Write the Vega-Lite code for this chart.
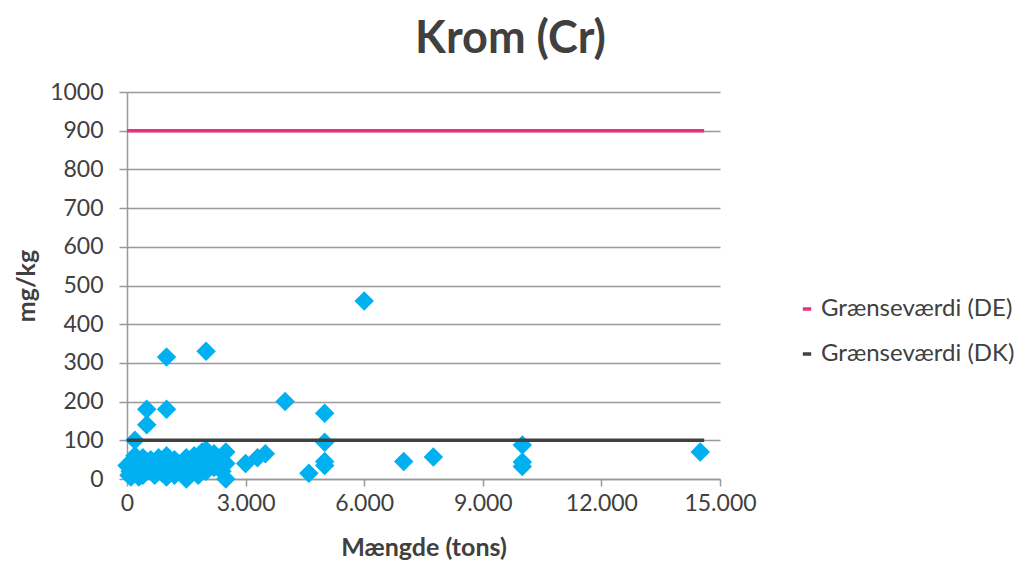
{
  "$schema": "https://vega.github.io/schema/vega-lite/v6.json",
  "width": 593,
  "height": 387,
  "autosize": {"type": "none"},
  "padding": {"left": 127, "top": 92, "right": 315, "bottom": 90},
  "background": "white",
  "title": {"text": "Krom (Cr)", "fontSize": 45, "font": "Lato", "fontWeight": "bold", "color": "#404040", "anchor": "middle", "dx": 87, "offset": 19},
  "config": {
    "view": {"stroke": null},
    "font": "Lato",
    "axis": {"labelFont": "Lato", "titleFont": "Lato", "labelColor": "#404040", "titleColor": "#404040", "labelFontSize": 23, "titleFontSize": 25, "titleFontWeight": "bold", "domainColor": "#999999", "tickColor": "#999999", "gridColor": "#999999", "domainWidth": 1.5, "tickWidth": 1.5, "gridWidth": 1.5, "labelOverlap": false, "labelFlush": false}
  },
  "datasets": {
    "points": [
      {"x": 0, "y": 35}, {"x": 50, "y": 10}, {"x": 80, "y": 20}, {"x": 100, "y": 5}, {"x": 150, "y": 45},
      {"x": 200, "y": 25}, {"x": 200, "y": 60}, {"x": 200, "y": 100}, {"x": 250, "y": 15}, {"x": 300, "y": 40},
      {"x": 300, "y": 5}, {"x": 350, "y": 30}, {"x": 400, "y": 55}, {"x": 400, "y": 10}, {"x": 450, "y": 20},
      {"x": 500, "y": 45}, {"x": 500, "y": 35}, {"x": 500, "y": 140}, {"x": 500, "y": 180}, {"x": 600, "y": 25},
      {"x": 600, "y": 50}, {"x": 700, "y": 10}, {"x": 700, "y": 40}, {"x": 750, "y": 30}, {"x": 800, "y": 55},
      {"x": 900, "y": 15}, {"x": 900, "y": 35}, {"x": 1000, "y": 45}, {"x": 1000, "y": 60}, {"x": 1000, "y": 20},
      {"x": 1000, "y": 5}, {"x": 1000, "y": 180}, {"x": 1000, "y": 315}, {"x": 1100, "y": 30}, {"x": 1200, "y": 50},
      {"x": 1200, "y": 10}, {"x": 1300, "y": 40}, {"x": 1400, "y": 20}, {"x": 1500, "y": 55}, {"x": 1500, "y": 0},
      {"x": 1500, "y": 30}, {"x": 1600, "y": 45}, {"x": 1700, "y": 25}, {"x": 1700, "y": 60}, {"x": 1800, "y": 10},
      {"x": 1800, "y": 40}, {"x": 1900, "y": 70}, {"x": 2000, "y": 50}, {"x": 2000, "y": 20}, {"x": 2000, "y": 35},
      {"x": 2000, "y": 75}, {"x": 2000, "y": 330}, {"x": 2100, "y": 45}, {"x": 2200, "y": 30}, {"x": 2200, "y": 65},
      {"x": 2300, "y": 55}, {"x": 2400, "y": 20}, {"x": 2500, "y": 70}, {"x": 2500, "y": 40}, {"x": 2500, "y": 0},
      {"x": 3000, "y": 40}, {"x": 3300, "y": 55}, {"x": 3500, "y": 65}, {"x": 4000, "y": 200}, {"x": 4600, "y": 15},
      {"x": 5000, "y": 170}, {"x": 5000, "y": 95}, {"x": 5000, "y": 45}, {"x": 5000, "y": 35}, {"x": 6000, "y": 460},
      {"x": 7000, "y": 45}, {"x": 7750, "y": 57}, {"x": 10000, "y": 88}, {"x": 10000, "y": 44}, {"x": 10000, "y": 32},
      {"x": 14500, "y": 70}
    ],
    "limits": [
      {"x": 0, "y": 900, "serie": "Grænseværdi (DE)"}, {"x": 14600, "y": 900, "serie": "Grænseværdi (DE)"},
      {"x": 0, "y": 100, "serie": "Grænseværdi (DK)"}, {"x": 14600, "y": 100, "serie": "Grænseværdi (DK)"}
    ]
  },
  "encoding": {
    "x": {"field": "x", "type": "quantitative", "scale": {"domain": [0, 15000], "nice": false},
      "axis": {"values": [0, 3000, 6000, 9000, 12000, 15000], "grid": false, "tickSize": 7, "labelPadding": 6, "title": "Mængde (tons)", "titlePadding": 20,
        "labelExpr": "replace(format(datum.value, ','), ',', '.')"}},
    "y": {"field": "y", "type": "quantitative", "scale": {"domain": [0, 1000], "nice": false},
      "axis": {"values": [0, 100, 200, 300, 400, 500, 600, 700, 800, 900, 1000], "format": "d", "grid": true, "tickSize": 8, "labelPadding": 16, "title": "mg/kg", "titlePadding": 10}}
  },
  "layer": [
    {
      "data": {"name": "points"},
      "mark": {"type": "point", "shape": "diamond", "filled": true, "size": 380, "color": "#00B0F0", "opacity": 1}
    },
    {
      "data": {"name": "limits"},
      "mark": {"type": "line", "strokeWidth": 3.5},
      "encoding": {
        "color": {"field": "serie", "type": "nominal",
          "scale": {"domain": ["Grænseværdi (DE)", "Grænseværdi (DK)"], "range": ["#E8317E", "#404040"]},
          "legend": {"title": null, "orient": "none", "legendX": 668, "legendY": 205, "symbolType": "stroke", "symbolSize": 70, "symbolStrokeWidth": 3.5,
            "labelFontSize": 24, "labelColor": "#404040", "labelFont": "Lato", "labelLimit": 400, "rowPadding": 21, "labelOffset": 2}}
      }
    }
  ]
}
